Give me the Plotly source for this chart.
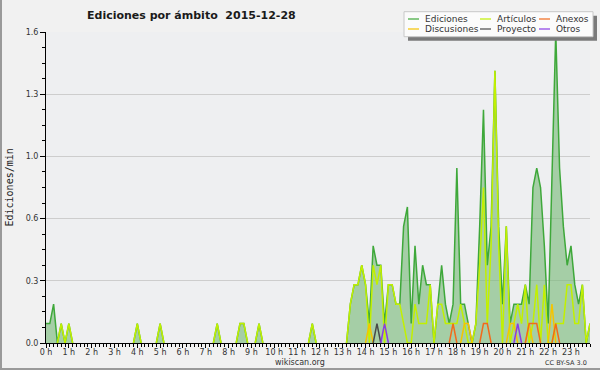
import plotly.graph_objects as go

# ---------------- data (edits per minute, 10-minute steps, 0:00 .. 23:50) ----------------
hour_labels = [f"{h} h" for h in range(24)]
steps = list(range(144))

ediciones = [
    0.1, 0.1, 0.2, 0.0, 0.1, 0.0, 0.1, 0.0, 0.0, 0.0, 0.0, 0.0,   # 0h-2h
    0.0, 0.0, 0.0, 0.0, 0.0, 0.0, 0.0, 0.0, 0.0, 0.0, 0.0, 0.0,   # 2h-4h
    0.1, 0.0, 0.0, 0.0, 0.0, 0.0, 0.1, 0.0, 0.0, 0.0, 0.0, 0.0,   # 4h-6h
    0.0, 0.0, 0.0, 0.0, 0.0, 0.0, 0.0, 0.0, 0.0, 0.1, 0.0, 0.0,   # 6h-8h
    0.0, 0.0, 0.0, 0.1, 0.1, 0.0, 0.0, 0.0, 0.1, 0.0, 0.0, 0.0,   # 8h-10h
    0.0, 0.0, 0.0, 0.0, 0.0, 0.0, 0.0, 0.0, 0.0, 0.0, 0.1, 0.0,   # 10h-12h
    0.0, 0.0, 0.0, 0.0, 0.0, 0.0, 0.0, 0.0, 0.2, 0.3, 0.3, 0.4,   # 12h-14h
    0.3, 0.1, 0.5, 0.4, 0.4, 0.1, 0.3, 0.3, 0.2, 0.2, 0.6, 0.7,   # 14h-16h
    0.1, 0.5, 0.2, 0.4, 0.3, 0.3, 0.0, 0.2, 0.4, 0.2, 0.1, 0.2,   # 16h-18h
    0.9, 0.2, 0.2, 0.1, 0.0, 0.1, 0.6, 1.2, 0.4, 0.6, 1.4, 0.6,   # 18h-20h
    0.2, 0.6, 0.1, 0.2, 0.2, 0.2, 0.3, 0.2, 0.8, 0.9, 0.8, 0.5,   # 20h-22h
    0.1, 0.8, 1.6, 0.9, 0.6, 0.4, 0.5, 0.3, 0.2, 0.3, 0.0, 0.1,   # 22h-24h
]

articulos = [
    0.0, 0.0, 0.0, 0.0, 0.1, 0.0, 0.1, 0.0, 0.0, 0.0, 0.0, 0.0,
    0.0, 0.0, 0.0, 0.0, 0.0, 0.0, 0.0, 0.0, 0.0, 0.0, 0.0, 0.0,
    0.1, 0.0, 0.0, 0.0, 0.0, 0.0, 0.1, 0.0, 0.0, 0.0, 0.0, 0.0,
    0.0, 0.0, 0.0, 0.0, 0.0, 0.0, 0.0, 0.0, 0.0, 0.1, 0.0, 0.0,
    0.0, 0.0, 0.0, 0.1, 0.1, 0.0, 0.0, 0.0, 0.1, 0.0, 0.0, 0.0,
    0.0, 0.0, 0.0, 0.0, 0.0, 0.0, 0.0, 0.0, 0.0, 0.0, 0.1, 0.0,
    0.0, 0.0, 0.0, 0.0, 0.0, 0.0, 0.0, 0.0, 0.2, 0.3, 0.3, 0.4,
    0.3, 0.0, 0.4, 0.3, 0.4, 0.0, 0.3, 0.3, 0.2, 0.2, 0.1, 0.0,
    0.0, 0.2, 0.1, 0.1, 0.1, 0.3, 0.0, 0.2, 0.2, 0.1, 0.1, 0.1,
    0.1, 0.2, 0.1, 0.0, 0.0, 0.1, 0.4, 0.8, 0.1, 0.5, 1.4, 0.5,
    0.0, 0.6, 0.0, 0.1, 0.2, 0.1, 0.3, 0.0, 0.1, 0.3, 0.0, 0.3,
    0.0, 0.0, 0.1, 0.1, 0.1, 0.3, 0.3, 0.1, 0.1, 0.3, 0.0, 0.1,
]

discusiones = [0.0] * 144
for i, v in {85: 0.1, 110: 0.1, 111: 0.1, 122: 0.1, 123: 0.1, 127: 0.1, 133: 0.2}.items():
    discusiones[i] = v

anexos = [0.0] * 144
for i, v in {107: 0.1, 115: 0.1, 116: 0.1, 127: 0.1, 128: 0.1, 129: 0.1, 134: 0.1}.items():
    anexos[i] = v

proyecto = [0.0] * 144
for i, v in {87: 0.1}.items():
    proyecto[i] = v

otros = [0.0] * 144
for i, v in {89: 0.1, 124: 0.1}.items():
    otros[i] = v

y_tickvals = [0, 0.32, 0.64, 0.96, 1.28, 1.6]
y_ticktext = ["0.0", "0.3", "0.6", "1.0", "1.3", "1.6"]

series = [
    ("Ediciones", ediciones, "#3ea83a"),
    ("Artículos", articulos, "#c2f000"),
    ("Discusiones", discusiones, "#f5c400"),
    ("Anexos", anexos, "#f26a1b"),
    ("Proyecto", proyecto, "#4a4a4a"),
    ("Otros", otros, "#8a3ce6"),
]


def visible(vals):
    """Hide long runs of zeros so the lines do not paint over the x axis."""
    out = []
    n = len(vals)
    for i, v in enumerate(vals):
        near = [vals[j] for j in (i - 1, i, i + 1) if 0 <= j < n]
        out.append(v if any(x > 0 for x in near) else None)
    return out


# ---------------- layout geometry ----------------
W, H = 600, 370
ML, MR, MT, MB = 46, 10, 32, 27
PW, PH = W - ML - MR, H - MT - MB


def px(x):
    return (x - ML) / PW


def py(y):
    return (H - MB - y) / PH


fig = go.Figure()

for name, vals, col in series:
    kw = {}
    if name == "Ediciones":
        kw = dict(fill="tozeroy", fillcolor="rgba(120,185,120,0.62)")
    fig.add_trace(go.Scatter(
        x=steps, y=visible(vals), mode="lines", name=name, connectgaps=False,
        line=dict(color=col, width=1.5), showlegend=False, **kw))

FONT = "DejaVu Sans"

shapes = []
annotations = []

# legend box with shadow
shapes.append(dict(type="rect", xref="paper", yref="paper",
                   x0=px(408), x1=px(597), y0=py(40.7), y1=py(15.7),
                   fillcolor="#7a7a7a", line=dict(width=0), layer="above"))
shapes.append(dict(type="rect", xref="paper", yref="paper",
                   x0=px(404), x1=px(593), y0=py(36.7), y1=py(11.7),
                   fillcolor="#fbfbfb", line=dict(color="#c8c8c8", width=1), layer="above"))

legend_pos = [
    ("Ediciones", 408, 19), ("Artículos", 480, 19), ("Anexos", 539, 19),
    ("Discusiones", 408, 29), ("Proyecto", 480, 29), ("Otros", 539, 29),
]
colors = {n: c for n, _, c in series}
for name, lx, ly in legend_pos:
    shapes.append(dict(type="line", xref="paper", yref="paper",
                       x0=px(lx), x1=px(lx + 11), y0=py(ly), y1=py(ly),
                       line=dict(color=colors[name], width=1.2), layer="above"))
    annotations.append(dict(text=name, xref="paper", yref="paper",
                            x=px(lx + 15), y=py(ly), xanchor="left", yanchor="middle",
                            showarrow=False, font=dict(family=FONT, size=9, color="#333333")))

# title
annotations.append(dict(text="Ediciones por ámbito \u00a02015-12-28", xref="paper", yref="paper",
                        x=px(85), y=py(15), xanchor="left", yanchor="middle", showarrow=False,
                        font=dict(family="DejaVu Sans", size=11, color="#1a1a1a", weight="bold")))
# y axis label
annotations.append(dict(text="Ediciones/min", xref="paper", yref="paper",
                        x=px(9), y=0.5, xanchor="center", yanchor="middle", textangle=-90,
                        showarrow=False, font=dict(family="DejaVu Sans Mono", size=10, color="#222222")))
# footer
annotations.append(dict(text="wikiscan.org", xref="paper", yref="paper",
                        x=px(300), y=py(362), xanchor="center", yanchor="middle", showarrow=False,
                        font=dict(family=FONT, size=8, color="#333333")))
annotations.append(dict(text="CC BY-SA 3.0", xref="paper", yref="paper",
                        x=px(589), y=py(363), xanchor="right", yanchor="middle", showarrow=False,
                        font=dict(family=FONT, size=6.5, color="#333333")))

# image frame (left and bottom edges)
shapes.append(dict(type="line", xref="paper", yref="paper",
                   x0=px(1), x1=px(1), y0=py(0), y1=py(370),
                   line=dict(color="#9a9a9a", width=2), layer="above"))
shapes.append(dict(type="line", xref="paper", yref="paper",
                   x0=px(0), x1=px(600), y0=py(369), y1=py(369),
                   line=dict(color="#9a9a9a", width=2), layer="above"))

fig.update_layout(
    width=W, height=H,
    margin=dict(l=ML, r=MR, t=MT, b=MB, pad=0),
    paper_bgcolor="#f1f1f1",
    plot_bgcolor="#eeeff1",
    shapes=shapes,
    annotations=annotations,
    showlegend=False,
    xaxis=dict(
        range=[0, 143], tickmode="array",
        tickvals=[h * 6 for h in range(24)], ticktext=hour_labels,
        showgrid=False, zeroline=False,
        showline=True, linecolor="#000000", linewidth=1,
        ticks="outside", ticklen=4, tickcolor="#000000", tickwidth=1,
        ticklabelstandoff=-3,
        tickfont=dict(family=FONT, size=8, color="#333333"),
        minor=dict(tickmode="linear", tick0=0, dtick=1, ticks="outside", ticklen=3,
                   tickcolor="#000000", showgrid=False),
        fixedrange=True,
    ),
    yaxis=dict(
        range=[0, 1.6], tickmode="array", tickvals=y_tickvals, ticktext=y_ticktext,
        showgrid=True, gridcolor="#cdcdcd", gridwidth=1, zeroline=False,
        showline=True, linecolor="#000000", linewidth=1,
        ticks="outside", ticklen=5, tickcolor="#000000", tickwidth=1,
        tickfont=dict(family=FONT, size=8, color="#333333"),
        minor=dict(tickmode="linear", tick0=0, dtick=0.08, ticks="outside", ticklen=3,
                   tickcolor="#000000", showgrid=False),
        fixedrange=True,
    ),
)

fig.write_html("out.html", config={"displayModeBar": False},
               post_script="document.body.style.margin='0';document.body.style.overflow='hidden';")
